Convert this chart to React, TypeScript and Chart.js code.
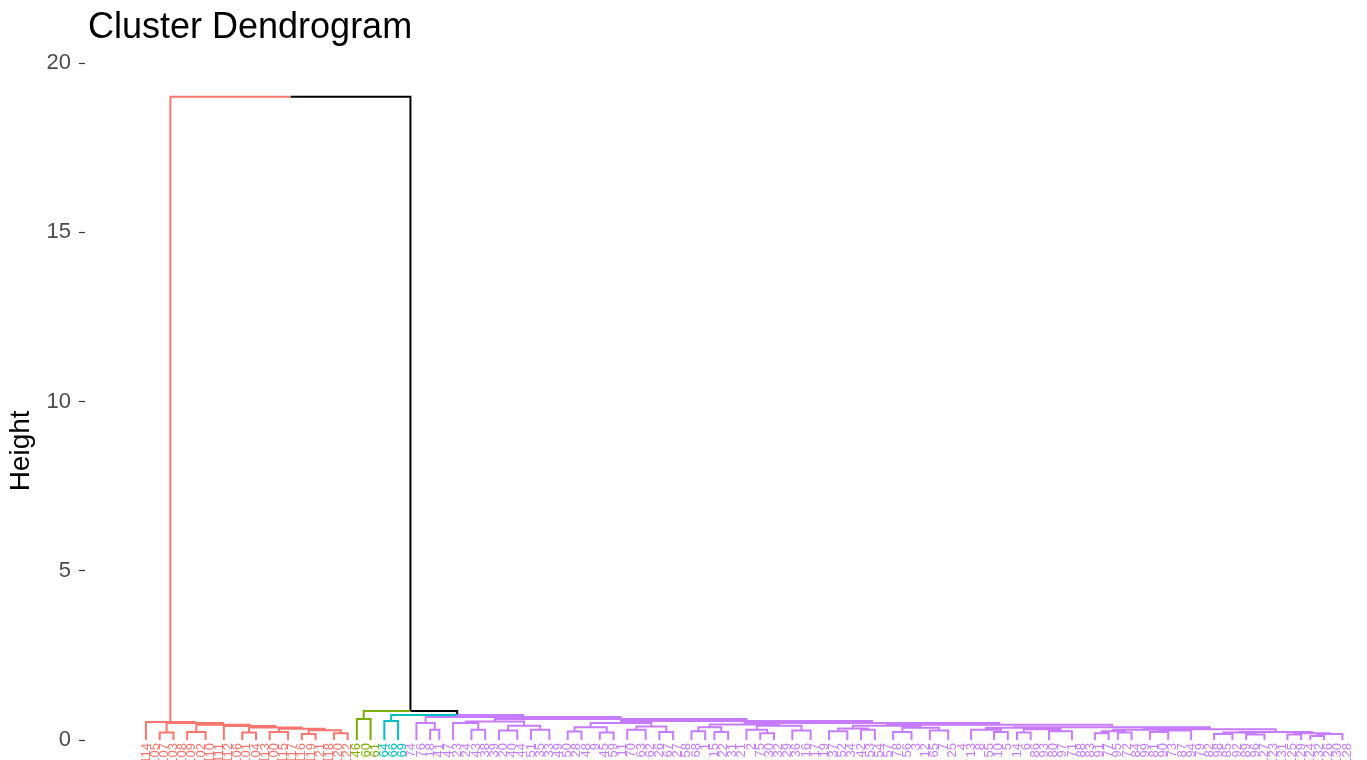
import { useEffect, useRef } from "react";
import { Chart, registerables } from "chart.js";

Chart.register(...registerables);

// A subtree is either a number (a run of identical observations joined at height 0)
// or a triple [merge height, left subtree, right subtree].
type Spec = number | [number, Spec, Spec];

// Leaf labels of each cluster, left to right
const redLabels = [
  "114", "105", "107", "103", "108", "109", "102", "110", "111", "112", "106", "101",
  "104", "113", "100", "115", "117", "116", "119", "121", "118", "120", "122",
];
const greenLabels = ["46", "60", "61"];
const tealLabels = ["64", "66", "69"];
const purpleLabels = [
  "74", "76", "18", "41", "47", "23", "24", "43", "38", "39",
  "20", "40", "44", "51", "35", "33", "49", "50", "28", "48",
  "9", "45", "59", "11", "70", "63", "62", "26", "67", "27",
  "58", "68", "1", "15", "22", "31", "21", "2", "75", "30",
  "32", "29", "36", "16", "17", "19", "37", "52", "34", "42",
  "53", "54", "57", "78", "56", "3", "12", "65", "7", "25",
  "4", "13", "8", "55", "10", "5", "14", "6", "86", "93",
  "80", "97", "71", "88", "83", "91", "77", "95", "72", "84",
  "99", "81", "90", "73", "87", "94", "79", "82", "98", "85",
  "92", "89", "96", "127", "123", "131", "125", "129", "124", "132",
  "126", "130", "128",
];

// Cluster 1: small groups chained left to right with falling merge heights
const redBlocks: Spec[] = [
  1, [0.22, 2, 1], [0.24, 2, 2], 2, [0.22, 2, 1], [0.24, 2, 2], [0.18, 1, 2], [0.2, 2, 1],
];
const redSteps = [0.53, 0.5, 0.45, 0.41, 0.37, 0.33, 0.29];

// Clusters 2 and 3
const greenTree: Spec = [0.62, 1, 2];
const tealTree: Spec = [0.56, 1, 2];

// Cluster 4: larger groups chained left to right
const purpleBlocks: Spec[] = [
  [0.5, 2, [0.3, 1, 1]],
  [0.55, [0.5, 2, [0.3, 2, 1]], [0.42, [0.28, 2, 2], [0.3, 1, 3]]],
  [0.5, [0.38, [0.25, 1, 2], [0.22, 2, 1]], [0.4, [0.3, 2, 2], [0.24, 1, 2]]],
  [0.46, [0.38, [0.26, 2, 1], [0.24, 1, 2]], [0.42, [0.3, 2, [0.2, 1, 2]], [0.28, 2, 2]]],
  [0.42, [0.34, [0.26, 2, 2], [0.3, 1, 2]], [0.36, [0.24, 2, 2], [0.28, 2, 2]]],
  [0.36, [0.3, 3, [0.24, 2, 1]], [0.32, [0.22, 1, 2], [0.26, 2, 3]]],
  [0.3, [0.26, [0.2, 2, 1], [0.22, 1, 2]], [0.28, [0.24, 2, 2], 3]],
  [0.22, [0.18, 2, 2], [0.16, 1, 3]],
  [0.2, [0.16, 2, 1], [0.18, [0.12, 1, 2], 2]],
];
const purpleSteps = [0.68, 0.62, 0.56, 0.5, 0.45, 0.38, 0.32, 0.24];

// Merges above the clusters: red | (green | (teal | purple))
const topHeights = [19.0, 0.86, 0.74];

const clusterColors = ["#F8766D", "#7CAE00", "#00BFC4", "#C77CFF"];
const linkColor = "#000000";
const yTicks = [0, 5, 10, 15, 20];

const FONT = "'Liberation Sans', Arial, Helvetica, sans-serif";

type Pt = { x: number; y: number | null };
type Node = { x: number; h: number };

function chain(blocks: Spec[], steps: number[]): Spec {
  let node: Spec = blocks[blocks.length - 1];
  for (let k = blocks.length - 2; k >= 0; k--) node = [steps[k], blocks[k], node];
  return node;
}

function buildDendrogram() {
  const trees: Spec[] = [
    chain(redBlocks, redSteps),
    greenTree,
    tealTree,
    chain(purpleBlocks, purpleSteps),
  ];
  const labelSets = [redLabels, greenLabels, tealLabels, purpleLabels];
  const segs: Pt[][] = [[], [], [], [], []];
  const leaves: { label: string; color: string }[] = [];
  let pos = 0;

  const edge = (arr: Pt[], child: Node, px: number, ph: number) => {
    arr.push({ x: child.x, y: child.h }, { x: child.x, y: ph }, { x: px, y: ph }, { x: px, y: null });
  };

  const place = (spec: Spec, c: number): Node => {
    if (typeof spec === "number") {
      const first = pos + 1;
      pos += spec;
      return { x: (first + pos) / 2, h: 0 };
    }
    const [h, a, b] = spec;
    const la = place(a, c);
    const lb = place(b, c);
    const x = (la.x + lb.x) / 2;
    edge(segs[c], la, x, h);
    edge(segs[c], lb, x, h);
    return { x, h };
  };

  const roots = trees.map((t, c) => {
    labelSets[c].forEach((l) => leaves.push({ label: l, color: clusterColors[c] }));
    return place(t, c);
  });

  const join = (a: Node, aSeg: Pt[], b: Node, bSeg: Pt[], h: number): Node => {
    const x = (a.x + b.x) / 2;
    edge(aSeg, a, x, h);
    edge(bSeg, b, x, h);
    return { x, h };
  };

  const black = segs[4];
  const tp = join(roots[2], segs[2], roots[3], segs[3], topHeights[2]);
  const gtp = join(roots[1], segs[1], tp, black, topHeights[1]);
  join(roots[0], segs[0], gtp, black, topHeights[0]);

  return { segs, leaves };
}

export default function App() {
  const canvasRef = useRef<HTMLCanvasElement | null>(null);

  useEffect(() => {
    const canvas = canvasRef.current;
    if (!canvas) return;
    const { segs, leaves } = buildDendrogram();
    const n = leaves.length;

    // target pixel frame of the panel
    const panelLeft = 85;
    const firstLeafPx = 146;
    const lastLeafPx = 1348;
    const topPx = 63; // y = 20
    const zeroPx = 740; // y = 0
    const pxPerLeaf = (lastLeafPx - firstLeafPx) / (n - 1);
    const pxPerUnit = (zeroPx - topPx) / 20;

    const colors = [...clusterColors, linkColor];
    const datasets = segs.map((d, i) => ({
      data: d,
      showLine: true,
      borderColor: colors[i],
      backgroundColor: colors[i],
      borderWidth: 2,
      pointRadius: 0,
      spanGaps: false,
      tension: 0,
    }));

    const leafLabels = {
      id: "leafLabels",
      afterDatasetsDraw(chart: any) {
        const { ctx, scales } = chart;
        const y0 = scales.y.getPixelForValue(0);
        ctx.save();
        ctx.font = `13px ${FONT}`;
        ctx.textAlign = "right";
        ctx.textBaseline = "middle";
        leaves.forEach((lf, i) => {
          ctx.save();
          ctx.fillStyle = lf.color;
          ctx.translate(scales.x.getPixelForValue(i + 1), y0 + 3);
          ctx.rotate(-Math.PI / 2);
          ctx.fillText(lf.label, 0, 0);
          ctx.restore();
        });
        ctx.restore();
      },
    };

    const plotTitle = {
      id: "plotTitle",
      afterDraw(chart: any) {
        const { ctx, chartArea } = chart;
        ctx.save();
        ctx.font = `36px ${FONT}`;
        ctx.fillStyle = "#000000";
        ctx.textAlign = "left";
        ctx.textBaseline = "alphabetic";
        ctx.fillText("Cluster Dendrogram", chartArea.left + 3, 38);
        ctx.restore();
      },
    };

    const chart = new Chart(canvas, {
      type: "scatter",
      data: { datasets: datasets as any },
      options: {
        animation: false,
        responsive: false,
        events: [],
        layout: { padding: { top: topPx, bottom: 0, left: 0, right: 0 } },
        plugins: {
          legend: { display: false },
          tooltip: { enabled: false },
          title: { display: false },
        },
        scales: {
          x: { type: "linear", display: false, min: 0, max: n + 1 },
          y: {
            type: "linear",
            min: -3,
            max: 20,
            afterBuildTicks: (s: any) => {
              s.ticks = yTicks.map((v) => ({ value: v }));
            },
            afterFit: (s: any) => {
              s.width = panelLeft;
            },
            border: { display: false },
            grid: {
              drawOnChartArea: false,
              drawTicks: true,
              tickLength: 6,
              tickColor: "#333333",
              tickWidth: 1.2,
            },
            ticks: {
              color: "#4D4D4D",
              font: { family: FONT, size: 22 },
              padding: 8,
            },
            title: {
              display: true,
              text: "Height",
              color: "#000000",
              font: { family: FONT, size: 28 },
              padding: { top: 4, bottom: 0 },
            },
          },
        },
      },
      plugins: [leafLabels, plotTitle],
    });

    // fit the value ranges to the laid-out panel so the marks land on the intended frame
    const ca = chart.chartArea;
    const xMin = 1 - (firstLeafPx - ca.left) / pxPerLeaf;
    const xMax = xMin + (ca.right - ca.left) / pxPerLeaf;
    const yMax = 20 + (topPx - ca.top) / pxPerUnit;
    const yMin = -(ca.bottom - zeroPx) / pxPerUnit;
    const sc: any = chart.options.scales;
    sc.x.min = xMin;
    sc.x.max = xMax;
    sc.y.min = yMin;
    sc.y.max = yMax;
    chart.update();

    return () => chart.destroy();
  }, []);

  return (
    <div style={{ position: "fixed", left: 0, top: 0, width: 1367, height: 860, background: "#ffffff" }}>
      <canvas ref={canvasRef} width={1367} height={860} style={{ width: 1367, height: 860, display: "block" }} />
    </div>
  );
}
